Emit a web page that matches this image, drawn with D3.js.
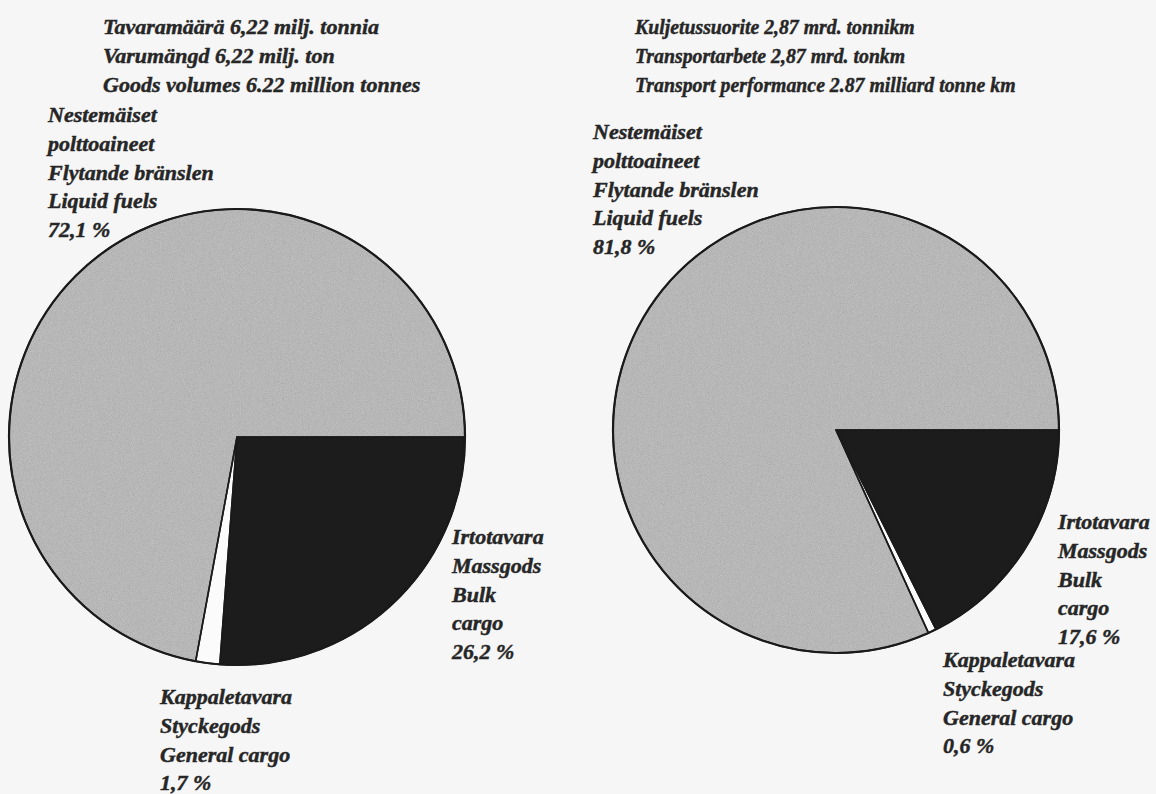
<!DOCTYPE html>
<html>
<head>
<meta charset="utf-8">
<script src="https://cdn.jsdelivr.net/npm/d3@7"></script>
<style>
  html, body { margin: 0; padding: 0; background: #f6f6f6; }
  svg { display: block; }
  text { font-family: "Liberation Serif", "Times New Roman", serif; font-weight: bold; font-style: italic; fill: #262626; stroke: #262626; stroke-width: 0.45px; }
</style>
</head>
<body>
<svg id="chart" width="1156" height="794"></svg>
<script>
// ---- Data ----
const categories = ["Irtotavara / Massgods / Bulk cargo", "Kappaletavara / Styckegods / General cargo", "Nestemäiset polttoaineet / Flytande bränslen / Liquid fuels"];
const goodsVolumeShares = [26.2, 1.7, 72.1];        // % of 6.22 million tonnes
const transportPerfShares = [17.6, 0.6, 81.8];      // % of 2.87 milliard tonne km

const leftTitle = ["Tavaramäärä 6,22 milj. tonnia", "Varumängd 6,22 milj. ton", "Goods volumes 6.22 million tonnes"];
const rightTitle = ["Kuljetussuorite 2,87 mrd. tonnikm", "Transportarbete 2,87 mrd. tonkm", "Transport performance 2.87 milliard tonne km"];

const leftLabels = [
  ["Irtotavara", "Massgods", "Bulk", "cargo", "26,2 %"],
  ["Kappaletavara", "Styckegods", "General cargo", "1,7 %"],
  ["Nestemäiset", "polttoaineet", "Flytande bränslen", "Liquid fuels", "72,1 %"]
];
const rightLabels = [
  ["Irtotavara", "Massgods", "Bulk", "cargo", "17,6 %"],
  ["Kappaletavara", "Styckegods", "General cargo", "0,6 %"],
  ["Nestemäiset", "polttoaineet", "Flytande bränslen", "Liquid fuels", "81,8 %"]
];

// ---- Styles ----
const fills = ["#1c1c1c", "#fbfbfb", "#b6b6b6"];
const lineH = 28.8;
const fontSize = 22;

const svg = d3.select("#chart");

// grain texture for the grey slice
const defs = svg.append("defs");
const f = defs.append("filter").attr("id", "grain")
  .attr("x", "-5%").attr("y", "-5%").attr("width", "110%").attr("height", "110%");
f.append("feTurbulence").attr("type", "fractalNoise").attr("baseFrequency", 1.1)
  .attr("numOctaves", 2).attr("seed", 7).attr("result", "noise");
f.append("feColorMatrix").attr("in", "noise").attr("type", "matrix")
  .attr("values", "0.33 0.33 0.33 0 0  0.33 0.33 0.33 0 0  0.33 0.33 0.33 0 0  0 0 0 0 1")
  .attr("result", "gray");
f.append("feComposite").attr("in", "SourceGraphic").attr("in2", "gray")
  .attr("operator", "arithmetic").attr("k1", 0).attr("k2", 1).attr("k3", 0.35).attr("k4", -0.17)
  .attr("result", "mix");
f.append("feComposite").attr("in", "mix").attr("in2", "SourceGraphic").attr("operator", "in");

const pie = d3.pie().sort(null).startAngle(Math.PI / 2).endAngle(Math.PI / 2 + 2 * Math.PI);

function drawPie(values, cx, cy, r) {
  const arc = d3.arc().innerRadius(0).outerRadius(r);
  const g = svg.append("g").attr("transform", `translate(${cx},${cy})`);
  g.selectAll("path")
    .data(pie(values))
    .join("path")
    .attr("d", arc)
    .attr("fill", (d, i) => fills[i])
    .attr("filter", (d, i) => i === 2 ? "url(#grain)" : null);
  g.selectAll("path.edge")
    .data(pie(values))
    .join("path")
    .attr("class", "edge")
    .attr("d", arc)
    .attr("fill", "none")
    .attr("stroke", "#1a1a1a")
    .attr("stroke-width", 1.6)
    .attr("stroke-linejoin", "round");
  g.append("circle").attr("r", r).attr("fill", "none").attr("stroke", "#1a1a1a").attr("stroke-width", 2.2);
}

function drawLines(lines, x, yFirst, sx) {
  const t = svg.append("text").attr("font-size", fontSize)
    .attr("transform", `translate(${x},0) scale(${sx || 1},1)`);
  t.selectAll("tspan").data(lines).join("tspan")
    .attr("x", 0)
    .attr("y", (d, i) => yFirst + i * lineH)
    .text(d => d);
}

drawPie(goodsVolumeShares, 237, 437, 228);
drawPie(transportPerfShares, 836, 430, 223);

// titles
drawLines(leftTitle, 103, 34);
drawLines(rightTitle, 635, 34, 0.9);

// left labels
drawLines(leftLabels[2], 48, 122);
drawLines(leftLabels[0], 452, 544);
drawLines(leftLabels[1], 160, 704);

// right labels
drawLines(rightLabels[2], 593, 139);
drawLines(rightLabels[0], 1058, 529);
drawLines(rightLabels[1], 943, 667);
</script>
</body>
</html>
